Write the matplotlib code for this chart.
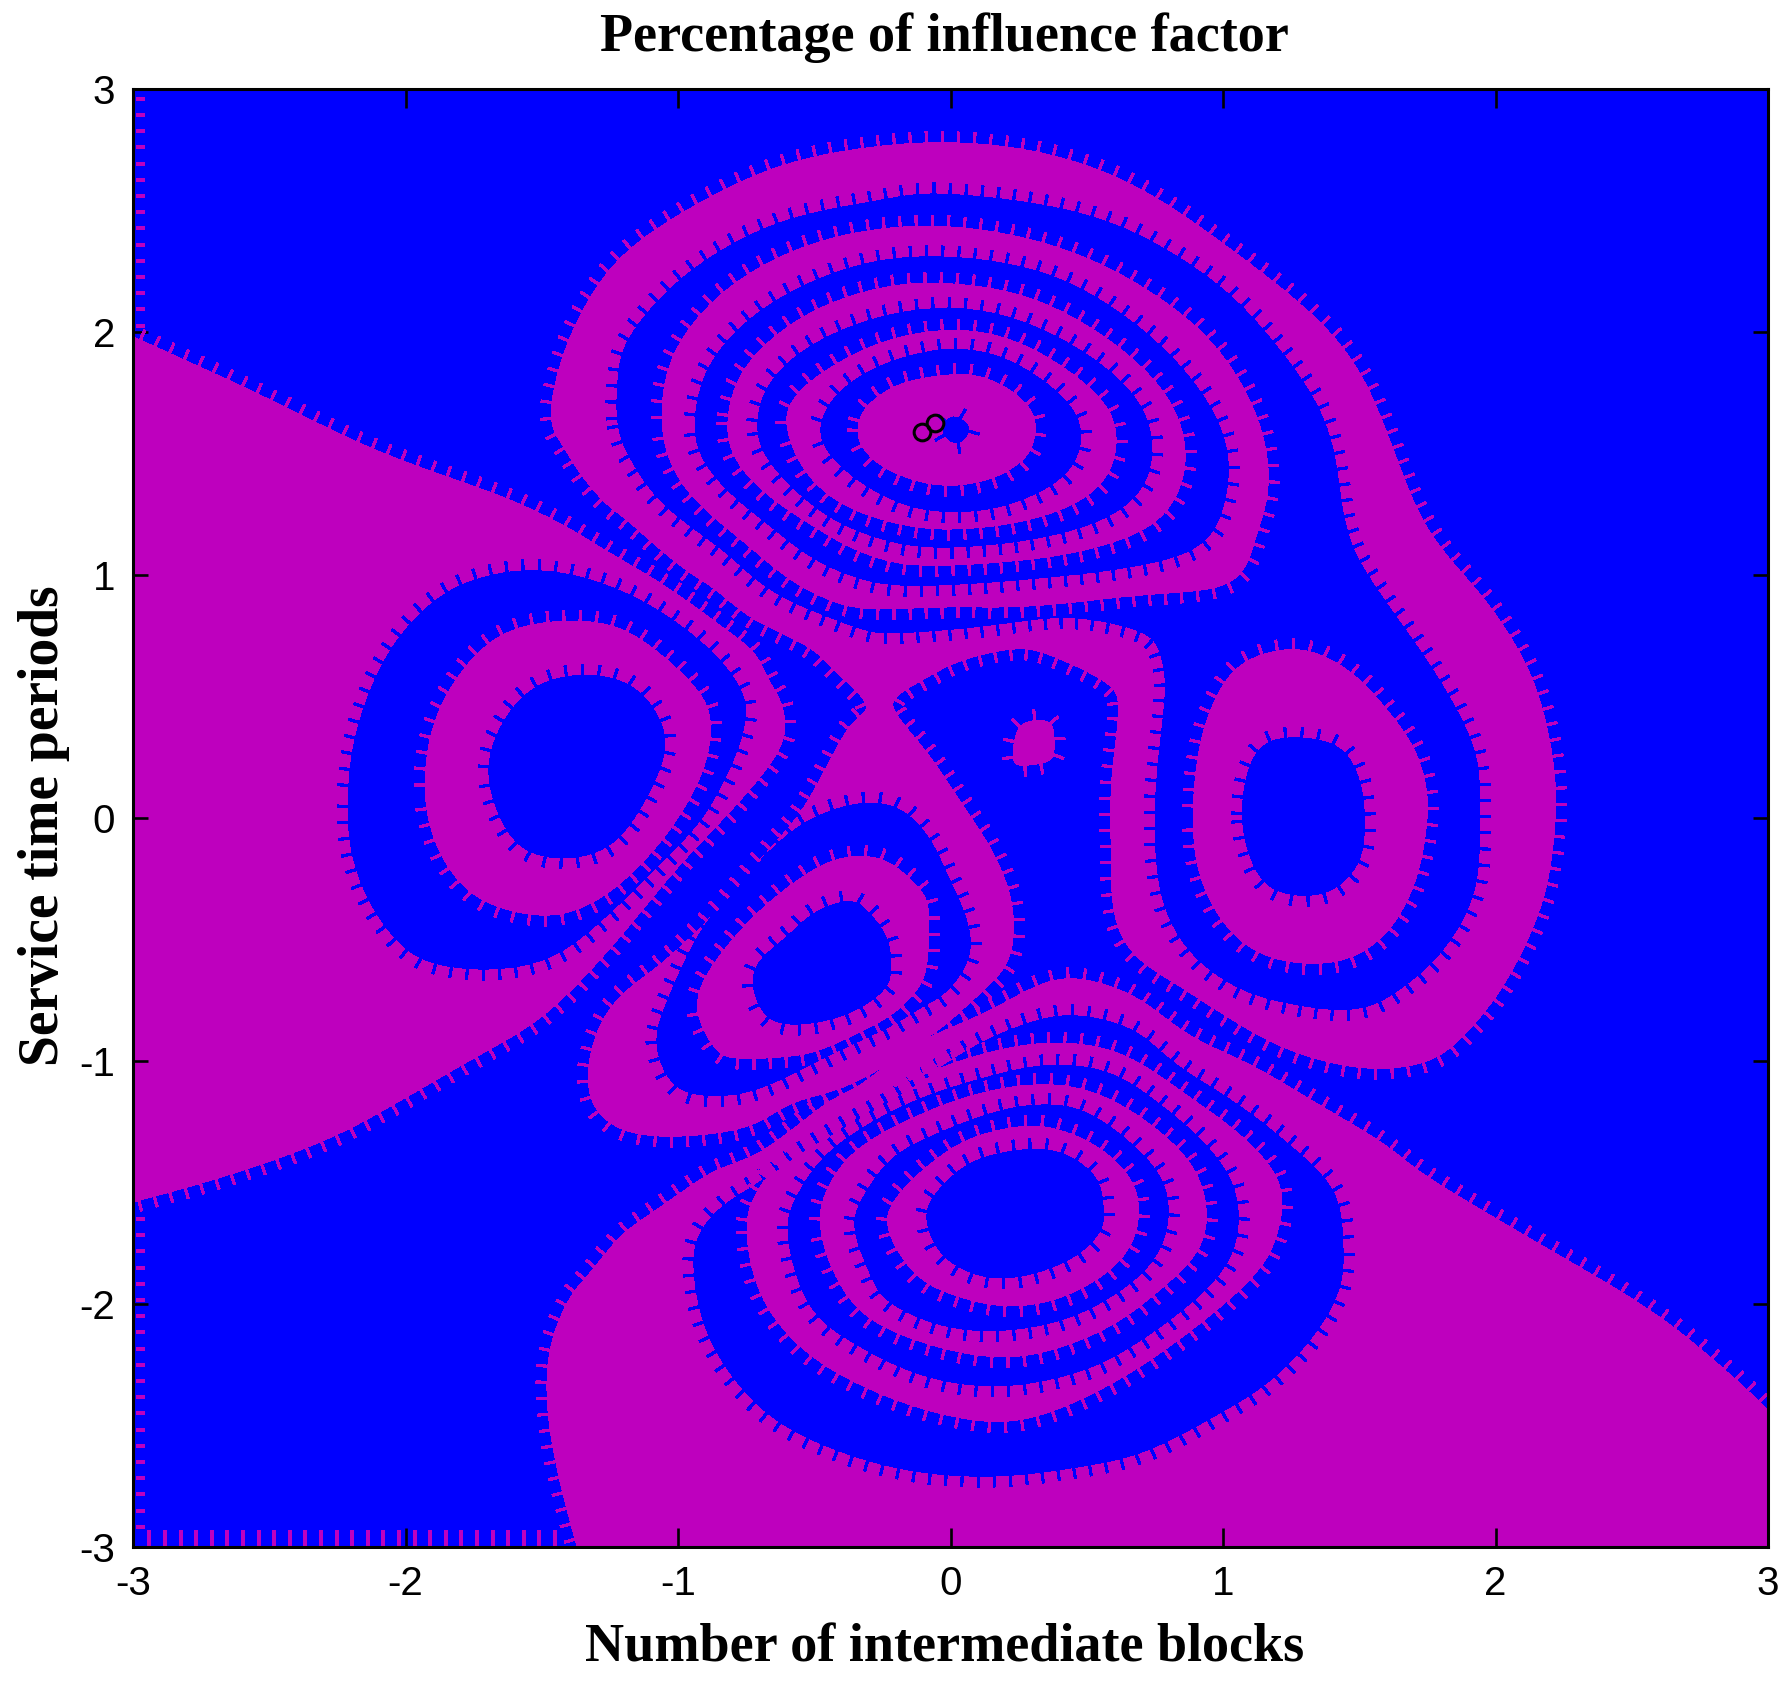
"""
Percentage of influence factor: filled level map with hatched contour edges.
Outlines are read off the picture, in data units.
"""
import matplotlib
matplotlib.use('Agg')
import numpy as np
import matplotlib.pyplot as plt
from matplotlib.collections import LineCollection

# ── Data ──────────────────────────────────────────────────────
x_ticks = [-3, -2, -1, 0, 1, 2, 3]
y_ticks = [-3, -2, -1, 0, 1, 2, 3]
tick_labels = ['-3', '-2', '-1', '0', '1', '2', '3']
title = 'Percentage of influence factor'
x_label = 'Number of intermediate blocks'
y_label = 'Service time periods'
marker_x = [-0.105, -0.057]
marker_y = [1.588, 1.625]

# open edges, closed along the axes
left_region = [(-3.00, 1.98), (-2.53, 1.74), (-2.11, 1.51), (-1.66, 1.33), (-1.43, 1.21), (-1.31, 1.13),
               (-1.19, 1.05), (-1.07, 0.97), (-0.94, 0.87), (-0.82, 0.77), (-0.72, 0.68), (-0.67, 0.57),
               (-0.62, 0.47), (-0.61, 0.33), (-0.69, 0.18), (-0.84, -0.01), (-1.00, -0.20), (-1.14, -0.39),
               (-1.30, -0.60), (-1.51, -0.83), (-1.77, -1.00), (-2.00, -1.15), (-2.28, -1.32), (-2.65, -1.47),
               (-3.00, -1.58)]
bottom_region = [(-1.37, -3.00), (-1.44, -2.70), (-1.48, -2.42), (-1.47, -2.18), (-1.40, -1.98), (-1.32, -1.87),
                 (-1.21, -1.72), (-1.10, -1.63), (-0.96, -1.52), (-0.86, -1.45), (-0.72, -1.39), (-0.60, -1.30),
                 (-0.45, -1.17), (-0.33, -1.10), (-0.21, -0.995), (-0.09, -0.91), (0.03, -0.85), (0.15, -0.79),
                 (0.30, -0.70), (0.42, -0.66), (0.55, -0.68), (0.70, -0.75), (0.88, -0.90), (1.11, -1.02),
                 (1.32, -1.16), (1.59, -1.34), (1.75, -1.48), (2.17, -1.76), (2.59, -2.04), (2.89, -2.32),
                 (3.00, -2.44)]

# big band: top, right side, round the centre, triangle, back under the top system
main_band = [(-1.46, 1.61), (-1.46, 1.74), (-1.39, 2.00), (-1.23, 2.29), (-0.97, 2.50), (-0.64, 2.68), (-0.30, 2.76),
             (0.03, 2.78), (0.37, 2.73), (0.70, 2.59), (1.04, 2.33), (1.33, 2.07), (1.50, 1.84), (1.61, 1.56),
             (1.71, 1.27), (1.82, 1.08), (1.96, 0.90), (2.09, 0.68), (2.17, 0.46), (2.22, 0.16), (2.21, -0.13),
             (2.16, -0.39), (2.03, -0.69), (1.87, -0.91), (1.73, -1.01), (1.50, -1.03), (1.23, -0.95), (1.02, -0.82),
             (0.84, -0.69), (0.68, -0.57), (0.60, -0.40), (0.59, -0.13), (0.59, 0.16), (0.62, 0.46), (0.57, 0.56),
             (0.39, 0.66), (0.25, 0.70), (0.04, 0.65), (-0.10, 0.57), (-0.21, 0.49), (-0.19, 0.41), (-0.08, 0.26),
             (0.04, 0.06), (0.15, -0.13), (0.22, -0.32), (0.23, -0.50), (0.19, -0.63), (0.07, -0.76), (-0.03, -0.86),
             (-0.15, -0.95), (-0.27, -1.04), (-0.42, -1.12), (-0.58, -1.17), (-0.72, -1.26), (-0.88, -1.30),
             (-1.07, -1.31), (-1.21, -1.28), (-1.30, -1.20), (-1.33, -1.09), (-1.32, -0.97), (-1.28, -0.84),
             (-1.20, -0.72), (-1.06, -0.60), (-0.88, -0.41), (-0.69, -0.16), (-0.55, 0.02), (-0.45, 0.22),
             (-0.37, 0.38), (-0.30, 0.46), (-0.40, 0.58), (-0.50, 0.69), (-0.60, 0.75), (-0.74, 0.83), (-0.86, 0.94),
             (-0.97, 1.02), (-1.09, 1.13), (-1.19, 1.23), (-1.27, 1.30), (-1.36, 1.42), (-1.42, 1.53)]

# left peak
left_outer = [(-2.21, 0.10), (-2.18, 0.36), (-2.07, 0.67), (-1.90, 0.89), (-1.72, 0.99), (-1.51, 1.02), (-1.29, 0.97),
              (-1.08, 0.86), (-0.89, 0.70), (-0.78, 0.55), (-0.75, 0.42), (-0.80, 0.23), (-0.91, 0.00), (-1.06, -0.18),
              (-1.25, -0.39), (-1.44, -0.56), (-1.64, -0.62), (-1.85, -0.61), (-2.00, -0.54), (-2.13, -0.35),
              (-2.20, -0.13)]
left_ring = [(-1.93, 0.10), (-1.90, 0.38), (-1.79, 0.61), (-1.64, 0.76), (-1.44, 0.81), (-1.23, 0.79), (-1.06, 0.67),
             (-0.91, 0.50), (-0.88, 0.36), (-0.91, 0.19), (-1.00, 0.00), (-1.12, -0.17), (-1.27, -0.32), (-1.44, -0.40),
             (-1.62, -0.38), (-1.77, -0.30), (-1.88, -0.13)]
left_hole = [(-1.70, 0.18), (-1.64, 0.40), (-1.51, 0.55), (-1.32, 0.59), (-1.15, 0.53), (-1.05, 0.36), (-1.07, 0.19),
             (-1.19, -0.05), (-1.32, -0.15), (-1.49, -0.16), (-1.62, -0.07)]

# triangle peak
tri_outer = [(-1.08, -0.90), (-1.03, -0.73), (-0.91, -0.45), (-0.72, -0.20), (-0.54, -0.02), (-0.34, 0.06), (-0.19, 0.04),
             (-0.08, -0.08), (-0.01, -0.24), (0.06, -0.42), (0.07, -0.57), (-0.01, -0.71), (-0.11, -0.78), (-0.21, -0.85),
             (-0.34, -0.92), (-0.49, -1.00), (-0.65, -1.09), (-0.80, -1.14), (-0.97, -1.13), (-1.05, -1.04)]
tri_ring = [(-0.93, -0.75), (-0.87, -0.60), (-0.70, -0.38), (-0.50, -0.21), (-0.37, -0.16), (-0.25, -0.17), (-0.16, -0.24),
            (-0.09, -0.33), (-0.08, -0.45), (-0.09, -0.63), (-0.14, -0.73), (-0.23, -0.82), (-0.37, -0.90), (-0.47, -0.95),
            (-0.58, -0.98), (-0.79, -0.99), (-0.86, -0.95), (-0.91, -0.86)]
tri_hole = [(-0.72, -0.72), (-0.71, -0.60), (-0.60, -0.49), (-0.50, -0.39), (-0.37, -0.34), (-0.30, -0.39), (-0.23, -0.50),
            (-0.22, -0.63), (-0.24, -0.70), (-0.33, -0.78), (-0.48, -0.84), (-0.65, -0.84)]

centre_spot = [(0.23, 0.28), (0.25, 0.37), (0.30, 0.40), (0.37, 0.39), (0.38, 0.30), (0.37, 0.24), (0.30, 0.22), (0.24, 0.22)]

# right peak
right_ring = [(0.89, 0.015), (0.91, 0.27), (0.96, 0.46), (1.05, 0.62), (1.20, 0.69), (1.34, 0.68), (1.48, 0.59), (1.59, 0.46),
              (1.70, 0.29), (1.75, 0.10), (1.74, -0.09), (1.70, -0.28), (1.61, -0.46), (1.48, -0.57), (1.32, -0.60),
              (1.14, -0.56), (1.00, -0.43), (0.91, -0.22)]
right_hole = [(1.07, -0.015), (1.09, 0.19), (1.16, 0.31), (1.29, 0.33), (1.43, 0.29), (1.50, 0.16), (1.52, -0.015),
              (1.50, -0.18), (1.41, -0.29), (1.30, -0.32), (1.18, -0.29), (1.11, -0.19)]

# top system, outside in
top_1 = [(-1.22, 1.61), (-1.22, 1.80), (-1.18, 1.98), (-0.97, 2.24), (-0.64, 2.45), (-0.26, 2.54), (-0.01, 2.57), (0.53, 2.48),
         (0.93, 2.24), (1.17, 1.98), (1.39, 1.61), (1.45, 1.17), (1.59, 0.90), (1.71, 0.71), (1.83, 0.50), (1.93, 0.26),
         (1.94, 0.02), (1.93, -0.28), (1.83, -0.51), (1.69, -0.67), (1.50, -0.79), (1.23, -0.76), (1.04, -0.69), (0.87, -0.54),
         (0.77, -0.31), (0.75, 0.02), (0.77, 0.31), (0.79, 0.53), (0.77, 0.68), (0.70, 0.77), (0.43, 0.83), (0.13, 0.79),
         (-0.21, 0.76), (-0.33, 0.78), (-0.45, 0.83), (-0.58, 0.89), (-0.70, 0.97), (-0.82, 1.09), (-0.94, 1.19),
         (-1.07, 1.31), (-1.17, 1.47)]
top_2 = [(-1.06, 1.61), (-1.02, 1.91), (-0.81, 2.19), (-0.47, 2.38), (-0.05, 2.44), (0.37, 2.36), (0.70, 2.19), (0.96, 1.96),
         (1.12, 1.67), (1.17, 1.39), (1.12, 1.16), (1.03, 0.96), (0.70, 0.92), (0.29, 0.87), (-0.01, 0.87), (-0.30, 0.86),
         (-0.45, 0.90), (-0.60, 0.99), (-0.75, 1.13), (-0.88, 1.25), (-1.00, 1.40)]
top_3 = [(-0.94, 1.62), (-0.88, 1.88), (-0.66, 2.12), (-0.33, 2.28), (0.00, 2.31), (0.36, 2.24), (0.66, 2.05), (0.89, 1.80),
         (1.01, 1.55), (1.01, 1.32), (0.92, 1.12), (0.65, 1.03), (0.25, 0.98), (-0.02, 0.96), (-0.22, 0.96), (-0.37, 1.00),
         (-0.52, 1.08), (-0.67, 1.21), (-0.80, 1.33), (-0.90, 1.46)]
top_4 = [(-0.82, 1.62), (-0.76, 1.85), (-0.55, 2.06), (-0.27, 2.18), (0.00, 2.20), (0.30, 2.14), (0.58, 1.97), (0.78, 1.76),
         (0.86, 1.55), (0.84, 1.35), (0.72, 1.19), (0.45, 1.09), (0.15, 1.05), (-0.05, 1.04), (-0.20, 1.05), (-0.36, 1.11),
         (-0.50, 1.20), (-0.66, 1.32), (-0.78, 1.46)]
top_5 = [(-0.71, 1.60), (-0.67, 1.78), (-0.52, 1.94), (-0.27, 2.06), (0.00, 2.10), (0.25, 2.05), (0.50, 1.91), (0.68, 1.73),
         (0.74, 1.55), (0.71, 1.37), (0.58, 1.24), (0.36, 1.16), (0.10, 1.12), (-0.15, 1.12), (-0.38, 1.20), (-0.53, 1.31),
         (-0.66, 1.46)]
top_6 = [(-0.60, 1.60), (-0.58, 1.72), (-0.46, 1.84), (-0.25, 1.96), (0.00, 2.01), (0.22, 1.97), (0.42, 1.85), (0.57, 1.70),
         (0.61, 1.55), (0.57, 1.40), (0.45, 1.29), (0.26, 1.22), (0.05, 1.19), (-0.15, 1.20), (-0.38, 1.28), (-0.53, 1.42)]
top_7 = [(-0.48, 1.60), (-0.42, 1.74), (-0.28, 1.85), (-0.12, 1.91), (0.02, 1.93), (0.18, 1.90), (0.34, 1.80), (0.45, 1.68),
         (0.48, 1.56), (0.44, 1.44), (0.34, 1.35), (0.18, 1.28), (0.02, 1.26), (-0.14, 1.28), (-0.30, 1.36), (-0.43, 1.48)]
top_8 = [(-0.34, 1.60), (-0.31, 1.69), (-0.20, 1.78), (-0.04, 1.82), (0.10, 1.82), (0.22, 1.76), (0.30, 1.67), (0.31, 1.58),
         (0.28, 1.49), (0.18, 1.41), (0.04, 1.37), (-0.10, 1.38), (-0.24, 1.44), (-0.32, 1.52)]
top_9 = [(-0.03, 1.60), (0.00, 1.65), (0.04, 1.64), (0.07, 1.60), (0.04, 1.55), (0.00, 1.55)]

# bottom system, outside in
low_1 = [(1.44, -1.76), (1.42, -1.57), (1.32, -1.42), (1.07, -1.19), (0.83, -1.02), (0.67, -0.87), (0.45, -0.81), (0.27, -0.85),
         (0.07, -0.95), (-0.13, -1.10), (-0.34, -1.24), (-0.54, -1.37), (-0.70, -1.50), (-0.84, -1.60), (-0.93, -1.73),
         (-0.94, -1.89), (-0.90, -2.10), (-0.80, -2.30), (-0.64, -2.48), (-0.40, -2.61), (-0.13, -2.69), (0.17, -2.71),
         (0.47, -2.67), (0.71, -2.61), (0.97, -2.46), (1.17, -2.32), (1.34, -2.12), (1.43, -1.93)]
low_2 = [(-0.75, -1.68), (-0.70, -1.52), (-0.56, -1.32), (-0.34, -1.18), (-0.09, -1.05), (0.19, -0.95), (0.43, -0.925), (0.65, -0.98),
         (0.87, -1.145), (1.07, -1.31), (1.21, -1.50), (1.20, -1.71), (1.11, -1.89), (0.87, -2.12), (0.59, -2.33), (0.27, -2.48),
         (-0.01, -2.46), (-0.30, -2.35), (-0.54, -2.19), (-0.70, -1.96)]
low_3 = [(-0.60, -1.71), (-0.56, -1.55), (-0.46, -1.39), (-0.30, -1.26), (-0.09, -1.145), (0.19, -1.05), (0.39, -1.015), (0.59, -1.05),
         (0.77, -1.18), (0.95, -1.36), (1.05, -1.55), (1.04, -1.78), (0.91, -1.97), (0.67, -2.17), (0.47, -2.28), (0.19, -2.34),
         (-0.09, -2.30), (-0.34, -2.17), (-0.52, -2.01)]
low_4 = [(-0.48, -1.68), (-0.45, -1.52), (-0.34, -1.36), (-0.13, -1.23), (0.07, -1.145), (0.27, -1.10), (0.47, -1.11), (0.67, -1.21),
         (0.87, -1.40), (0.94, -1.60), (0.91, -1.78), (0.77, -1.94), (0.59, -2.09), (0.37, -2.19), (0.17, -2.22), (-0.07, -2.17),
         (-0.30, -2.06), (-0.42, -1.89)]
low_5 = [(-0.355, -1.68), (-0.315, -1.55), (-0.215, -1.40), (-0.07, -1.31), (0.11, -1.23), (0.27, -1.185), (0.45, -1.19), (0.61, -1.29),
         (0.77, -1.47), (0.80, -1.65), (0.75, -1.81), (0.63, -1.94), (0.43, -2.06), (0.19, -2.11), (-0.03, -2.09), (-0.23, -1.99),
         (-0.30, -1.86)]
low_6 = [(-0.235, -1.68), (-0.19, -1.55), (-0.07, -1.42), (0.07, -1.32), (0.25, -1.27), (0.39, -1.28), (0.55, -1.36), (0.67, -1.50),
         (0.69, -1.65), (0.65, -1.78), (0.55, -1.89), (0.39, -1.98), (0.21, -2.01), (0.03, -1.97), (-0.13, -1.88)]
low_7 = [(-0.09, -1.65), (-0.05, -1.54), (0.07, -1.42), (0.23, -1.37), (0.39, -1.37), (0.53, -1.47), (0.56, -1.60), (0.55, -1.70),
         (0.45, -1.81), (0.27, -1.885), (0.11, -1.885), (-0.03, -1.80)]

# ── Style ─────────────────────────────────────────────────────
C_BLUE = '#0000FF'
C_MAG = '#BE00BE'
W, H = 1792, 1691
AX_L, AX_R, AX_T, AX_B = 133, 1768, 89, 1547
PX_X = (AX_R - AX_L) / 6.0    # pixels per data unit
PX_Y = (AX_B - AX_T) / 6.0
HAIR_STEP = 16.0              # px between edge hairs
HAIR_LEN = 11.0
HAIR_LW = 2.2 * 72 / 100

fig = plt.figure(figsize=(W / 100, H / 100), dpi=100, facecolor='white')
ax = fig.add_axes([AX_L / W, 1 - AX_B / H, (AX_R - AX_L) / W, (AX_B - AX_T) / H])
ax.set_facecolor(C_BLUE)
ax.set_xlim(-3, 3)
ax.set_ylim(-3, 3)


# ── Helpers ───────────────────────────────────────────────────
def smooth(pts, closed=True, n=10, win=9):
    """Catmull-Rom through the read points, then a short running mean to take out kinks."""
    p = np.array(pts, dtype=float)
    if closed:
        p = np.vstack([p[-1], p, p[0], p[1]])
    else:
        p = np.vstack([p[0], p, p[-1]])
    out = []
    t = np.linspace(0, 1, n, endpoint=False)[:, None]
    for i in range(1, len(p) - 2):
        p0, p1, p2, p3 = p[i - 1], p[i], p[i + 1], p[i + 2]
        out.append(0.5 * (2 * p1 + (p2 - p0) * t + (2 * p0 - 5 * p1 + 4 * p2 - p3) * t ** 2
                          + (3 * p1 - p0 - 3 * p2 + p3) * t ** 3))
    out = np.vstack(out)
    k = np.ones(win) / win
    h = win // 2
    if closed:
        wrap = np.vstack([out[-h:], out, out[:h]])
        out = np.column_stack([np.convolve(wrap[:, i], k, mode='valid') for i in (0, 1)])
        return np.vstack([out, out[0]])
    out = np.vstack([out, p[-1]])
    pad = np.vstack([np.repeat(out[:1], h, axis=0), out, np.repeat(out[-1:], h, axis=0)])
    res = np.column_stack([np.convolve(pad[:, i], k, mode='valid') for i in (0, 1)])
    res[0], res[-1] = pts[0], pts[-1]   # ends stay on the frame
    return res


def hairs(curve, orient, color):
    """Short strokes at a fixed pixel step, pointing out of the region."""
    px = curve * [PX_X, PX_Y]
    seg = np.hypot(*np.diff(px, axis=0).T)
    s = np.r_[0, np.cumsum(seg)]
    at = np.arange(HAIR_STEP / 2, s[-1], HAIR_STEP)
    xs = np.interp(at, s, px[:, 0])
    ys = np.interp(at, s, px[:, 1])
    tx = np.interp(at, s[:-1], np.diff(px[:, 0]) / np.maximum(seg, 1e-9))
    ty = np.interp(at, s[:-1], np.diff(px[:, 1]) / np.maximum(seg, 1e-9))
    nx, ny = orient * ty, -orient * tx
    lines = [[(a / PX_X, b / PX_Y), ((a + HAIR_LEN * c) / PX_X, (b + HAIR_LEN * d) / PX_Y)]
             for a, b, c, d in zip(xs, ys, nx, ny)]
    ax.add_collection(LineCollection(lines, colors=color, linewidths=HAIR_LW, capstyle='butt', antialiased=False))


def region(pts, color, closed=True, corners=()):
    curve = smooth(pts, closed)
    poly = np.vstack([curve, np.array(corners).reshape(-1, 2)]) if len(corners) else curve
    ax.fill(poly[:, 0], poly[:, 1], color=color, lw=0, antialiased=False)
    x, y = poly[:, 0], poly[:, 1]
    area = 0.5 * np.sum(x * np.roll(y, -1) - np.roll(x, -1) * y)
    hairs(curve, 1 if area > 0 else -1, color)


# ── Regions, painted outside in ───────────────────────────────
region(left_region, C_MAG, closed=False)
region(bottom_region, C_MAG, closed=False, corners=[(3, -3)])
region(main_band, C_MAG)

for shape, col in [(left_outer, C_BLUE), (left_ring, C_MAG), (left_hole, C_BLUE),
                   (tri_outer, C_BLUE), (tri_ring, C_MAG), (tri_hole, C_BLUE),
                   (centre_spot, C_MAG),
                   (top_1, C_BLUE), (right_ring, C_MAG), (right_hole, C_BLUE),
                   (top_2, C_MAG), (top_3, C_BLUE), (top_4, C_MAG), (top_5, C_BLUE),
                   (top_6, C_MAG), (top_7, C_BLUE), (top_8, C_MAG), (top_9, C_BLUE),
                   (low_1, C_BLUE), (low_2, C_MAG), (low_3, C_BLUE), (low_4, C_MAG),
                   (low_5, C_BLUE), (low_6, C_MAG), (low_7, C_BLUE)]:
    region(shape, col)

# hairs along the blue stretches of the frame
edge = []
for yy in np.arange(2.96, 1.98, -16.2 / PX_Y):
    edge.append([(-3 + 3 / PX_X, yy), (-3 + 12 / PX_X, yy)])
for yy in np.arange(-1.65, -2.97, -16.2 / PX_Y):
    edge.append([(-3 + 3 / PX_X, yy), (-3 + 12 / PX_X, yy)])
for xx in np.arange(-2.94, -1.40, 15.6 / PX_X):
    edge.append([(xx, -3), (xx, -3 + 17 / PX_Y)])
ax.add_collection(LineCollection(edge, colors=C_MAG, linewidths=HAIR_LW, capstyle='butt', antialiased=False))

ax.plot(marker_x, marker_y, ls='none', marker='o', ms=12, mfc='none', mec='black', mew=2.2, zorder=5)

# ── Axes and text ─────────────────────────────────────────────
ax.set_xticks(x_ticks, tick_labels)
ax.set_yticks(y_ticks, tick_labels)
ax.tick_params(axis='x', direction='in', length=14, width=1.9, top=True, pad=13,
               labelsize=29, labelfontfamily='Liberation Sans', zorder=6)
ax.tick_params(axis='y', direction='in', length=11, width=1.9, right=True, pad=13,
               labelsize=29, labelfontfamily='Liberation Sans', zorder=6)
for sp in ax.spines.values():
    sp.set_linewidth(2.2)
    sp.set_zorder(7)

fig.text(944 / W, 1 - 38 / H, title, ha='center', va='center', family='Liberation Serif',
         fontweight='bold', fontsize=39)
fig.text(945 / W, 1 - 1648 / H, x_label, ha='center', va='center', family='Liberation Serif',
         fontweight='bold', fontsize=39)
fig.text(44 / W, 1 - 826 / H, y_label, ha='center', va='center', rotation=90, family='Liberation Serif',
         fontweight='bold', fontsize=40)

fig.savefig('out.png', dpi=100, facecolor='white')
